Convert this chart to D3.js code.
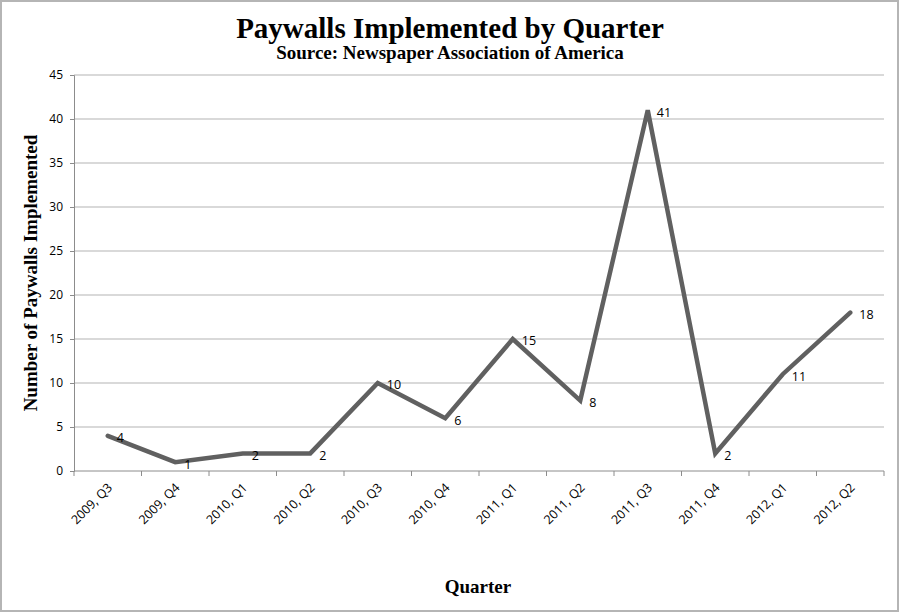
<!DOCTYPE html>
<html>
<head>
<meta charset="utf-8">
<script src="https://cdn.jsdelivr.net/npm/d3@7"></script>
<style>
  body { margin: 0; background: #fff; }
  svg { display: block; }
</style>
</head>
<body>
<svg></svg>
<script>
var quarters = ['2009, Q3', '2009, Q4', '2010, Q1', '2010, Q2', '2010, Q3', '2010, Q4',
  '2011, Q1', '2011, Q2', '2011, Q3', '2011, Q4', '2012, Q1', '2012, Q2'];
var paywalls = [4, 1, 2, 2, 10, 6, 15, 8, 41, 2, 11, 18];
var yTicks = [0, 5, 10, 15, 20, 25, 30, 35, 40, 45];

var W = 900, H = 613;
var m = {left: 74, right: 16, top: 75, bottom: 142};
var smallFont = 'Open Sans, sans-serif';
var serif = 'Liberation Serif, serif';

var svg = d3.select('svg')
            .attr('width', W)
            .attr('height', H);

// outer frame
svg.append('rect')
   .attr('x', 1).attr('y', 1)
   .attr('width', W - 3).attr('height', H - 3)
   .attr('fill', 'white')
   .attr('stroke', '#b5b5b5')
   .attr('stroke-width', 2);

var x = d3.scaleBand()
          .domain(quarters)
          .range([m.left, W - m.right]);
var y = d3.scaleLinear()
          .domain([0, 45])
          .range([H - m.bottom, m.top]);

// gridlines
svg.append('g')
   .selectAll('line')
   .data(yTicks.slice(1))
   .enter()
   .append('line')
   .attr('x1', m.left).attr('x2', W - m.right)
   .attr('y1', d => y(d)).attr('y2', d => y(d))
   .attr('stroke', '#b3b3b3')
   .attr('stroke-width', 1);

// y axis
var yAxis = svg.append('g')
   .attr('transform', 'translate(' + m.left + ',0)')
   .call(d3.axisLeft(y).tickValues(yTicks).tickSize(4).tickPadding(7));
yAxis.select('.domain').attr('stroke', '#8c8c8c');
yAxis.selectAll('line').attr('stroke', '#8c8c8c');
yAxis.selectAll('text')
     .attr('font-family', smallFont)
     .attr('font-size', '12px')
     .attr('fill', '#000');

// x axis: ticks at band edges
var xAxis = svg.append('g')
   .attr('transform', 'translate(0,' + y(0) + ')');
xAxis.append('line')
     .attr('x1', m.left).attr('x2', W - m.right)
     .attr('stroke', '#8c8c8c');
xAxis.selectAll('line.tk')
     .data(quarters.concat(['end']))
     .enter()
     .append('line')
     .attr('class', 'tk')
     .attr('x1', (d, i) => m.left + i * x.step())
     .attr('x2', (d, i) => m.left + i * x.step())
     .attr('y1', 0).attr('y2', 5)
     .attr('stroke', '#8c8c8c');
xAxis.selectAll('text')
     .data(quarters)
     .enter()
     .append('text')
     .text(d => d)
     .attr('transform', d => 'translate(' + (x(d) + x.bandwidth() / 2 + 3) + ',15) rotate(-45)')
     .attr('text-anchor', 'end')
     .attr('dominant-baseline', 'middle')
     .attr('font-family', smallFont)
     .attr('font-size', '12.5px')
     .attr('fill', '#000');

// line
var line = d3.line()
             .x((d, i) => x(quarters[i]) + x.bandwidth() / 2)
             .y(d => y(d));
svg.append('path')
   .datum(paywalls)
   .attr('d', line)
   .attr('fill', 'none')
   .attr('stroke', '#606060')
   .attr('stroke-width', 4.5)
   .attr('stroke-linejoin', 'miter')
   .attr('stroke-linecap', 'round');

// value labels
svg.append('g')
   .selectAll('text')
   .data(paywalls)
   .enter()
   .append('text')
   .text(d => d)
   .attr('x', (d, i) => x(quarters[i]) + x.bandwidth() / 2 + 9)
   .attr('y', d => y(d) + 3)
   .attr('dominant-baseline', 'middle')
   .attr('font-family', smallFont)
   .attr('font-size', '12.5px')
   .attr('fill', '#000');

// titles
svg.append('text')
   .text('Paywalls Implemented by Quarter')
   .attr('x', 450).attr('y', 38)
   .attr('text-anchor', 'middle')
   .attr('font-family', serif)
   .attr('font-weight', 'bold')
   .attr('font-size', '29px');
svg.append('text')
   .text('Source: Newspaper Association of America')
   .attr('x', 450).attr('y', 59)
   .attr('text-anchor', 'middle')
   .attr('font-family', serif)
   .attr('font-weight', 'bold')
   .attr('font-size', '19px');
svg.append('text')
   .text('Quarter')
   .attr('x', 478).attr('y', 593)
   .attr('text-anchor', 'middle')
   .attr('font-family', serif)
   .attr('font-weight', 'bold')
   .attr('font-size', '19px');
svg.append('text')
   .text('Number of Paywalls Implemented')
   .attr('transform', 'translate(37,' + ((m.top + H - m.bottom) / 2) + ') rotate(-90)')
   .attr('text-anchor', 'middle')
   .attr('font-family', serif)
   .attr('font-weight', 'bold')
   .attr('font-size', '19px');
</script>
</body>
</html>
